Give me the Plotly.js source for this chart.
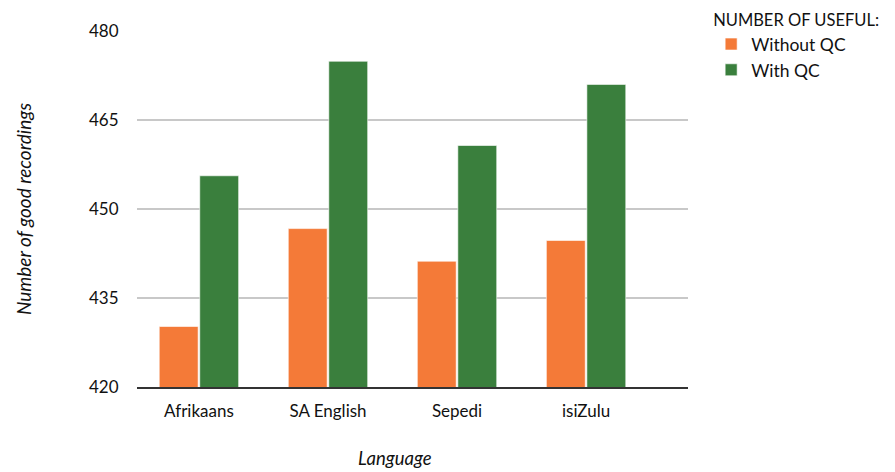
<!DOCTYPE html>
<html>
<head>
<meta charset="utf-8">
<script src="https://cdn.plot.ly/plotly-3.0.1.min.js"></script>
<style>html,body{margin:0;padding:0;background:#fff}#chart{width:895px;height:472px}</style>
</head>
<body>
<div id="chart"></div>
<script>
const languages = ["Afrikaans", "SA English", "Sepedi", "isiZulu"];
const withoutQC = [430.2, 446.7, 441.2, 444.7];
const withQC = [455.6, 474.9, 460.7, 471.0];
const yTicks = [420, 435, 450, 465, 480];

const font = "Lato, 'Open Sans', sans-serif";
const traces = [
  {type: "bar", name: "Without QC", x: languages, y: withoutQC,
   marker: {color: "#F47A38", line: {color: "rgba(255,255,255,0.6)", width: 1}}},
  {type: "bar", name: "With QC", x: languages, y: withQC,
   marker: {color: "#3A7F3D", line: {color: "rgba(255,255,255,0.6)", width: 1}}}
];
const layout = {
  width: 895, height: 472,
  margin: {l: 137, r: 207, t: 31, b: 85, autoexpand: false},
  paper_bgcolor: "#fff", plot_bgcolor: "#fff",
  font: {family: font, color: "#111"},
  barmode: "group", bargap: 0.372, bargroupgap: 0.04,
  showlegend: true,
  legend: {
    x: 1.042, xanchor: "left", xref: "paper",
    y: 0.99, yanchor: "top", yref: "container",
    title: {text: "NUMBER OF USEFUL:", font: {size: 16.5, color: "#111", family: font}},
    font: {size: 17.5, color: "#111", family: font},
    itemwidth: 30, tracegroupgap: 0
  },
  annotations: [{
    text: "<i>Language</i>", xref: "paper", yref: "paper", x: 0.468, y: -0.2,
    xanchor: "center", yanchor: "middle", showarrow: false,
    font: {size: 18.5, color: "#111", family: font}
  }],
  xaxis: {
    type: "category", range: [-0.48, 3.79],
    showgrid: false, showline: true, linecolor: "#333", linewidth: 1.5,
    ticks: "outside", ticklen: 8, tickcolor: "rgba(0,0,0,0)",
    tickfont: {size: 17, color: "#111", family: font}
  },
  yaxis: {
    range: [420, 480], tickvals: yTicks, ticktext: yTicks.map(String),
    showgrid: true, gridcolor: "#c8c8c8", gridwidth: 1.5,
    zeroline: false, showline: false,
    ticks: "outside", ticklen: 14, tickcolor: "rgba(0,0,0,0)",
    tickfont: {size: 17, color: "#111", family: font},
    title: {text: "<i>Number of good recordings</i>", font: {size: 19, color: "#111", family: font}, standoff: 52}
  }
};
Plotly.newPlot("chart", traces, layout, {displayModeBar: false, staticPlot: true});
</script>
</body>
</html>
